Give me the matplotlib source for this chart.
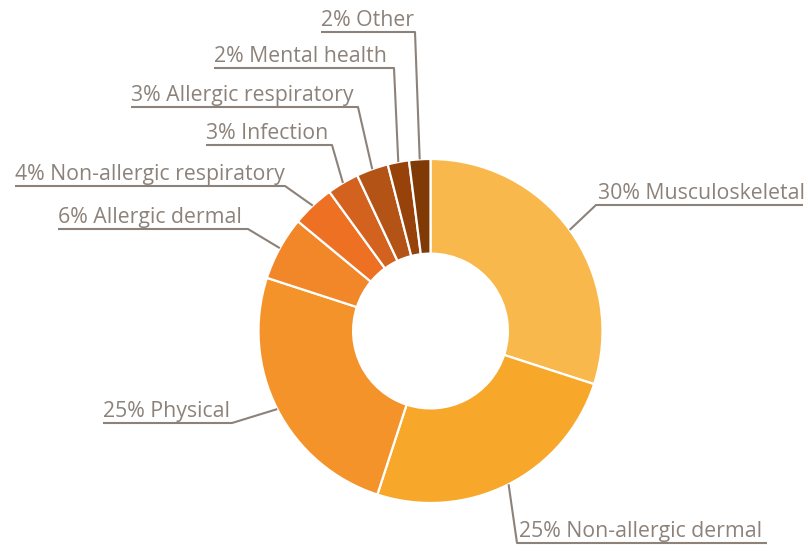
import matplotlib.pyplot as plt
import numpy as np

labels = ['Musculoskeletal', 'Non-allergic dermal', 'Physical', 'Allergic dermal',
          'Non-allergic respiratory', 'Infection', 'Allergic respiratory',
          'Mental health', 'Other']
shares = [30, 25, 25, 6, 4, 3, 3, 2, 2]
colors = ['#F9B84B', '#F7A82A', '#F5932B', '#F2872A', '#EE7023',
          '#D2621E', '#B35316', '#96420A', '#7F3A06']

# label underlines in image pixels: left x, right x, y, end where leader joins
underlines = [
    (596, 803, 205, 'left'),
    (517, 767, 543, 'left'),
    (103, 232, 423, 'right'),
    (58, 248, 229, 'right'),
    (15, 285, 186, 'right'),
    (206, 332, 145, 'right'),
    (131, 358, 107, 'right'),
    (214, 394, 68, 'right'),
    (321, 415, 32, 'right'),
]

W, H = 807, 546
grey = '#8C827A'
plt.rcParams['font.family'] = ['Open Sans', 'DejaVu Sans']

fig = plt.figure(figsize=(W / 100, H / 100), dpi=100)
ax = fig.add_axes([0, 0, 1, 1])

cx, cy, r = 430.5, H - 331, 172
wedges, _ = ax.pie(shares, colors=colors, startangle=90, counterclock=False,
                   center=(cx, cy), radius=r, frame=True,
                   wedgeprops=dict(width=r * 0.55, edgecolor='white', linewidth=1.6))
ax.set_xlim(0, W)
ax.set_ylim(0, H)
ax.set_aspect('equal')
ax.axis('off')

for w, lab, s, (x0, x1, uy, side) in zip(wedges, labels, shares, underlines):
    ang = np.deg2rad((w.theta1 + w.theta2) / 2)
    px, py = cx + r * np.cos(ang), cy + r * np.sin(ang)
    y = H - uy
    kx = x0 if side == 'left' else x1
    ax.plot([px, kx, x0 if side == 'right' else x1], [py, y, y],
            color=grey, lw=1.5, solid_capstyle='butt')
    tx = x0 + (2 if side == 'left' else 0)
    ax.text(tx, y + 6, f'{s}% {lab}', color=grey, fontsize=15.3,
            ha='left', va='baseline')

fig.savefig('out.png', dpi=100)
